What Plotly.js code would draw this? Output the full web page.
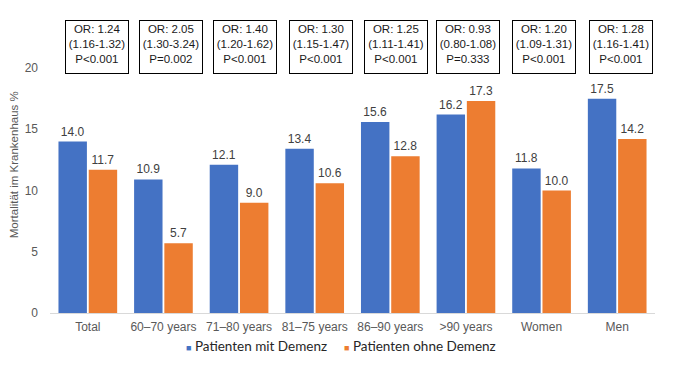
<!DOCTYPE html>
<html>
<head>
<meta charset="utf-8">
<script src="https://cdn.plot.ly/plotly-3.0.1.min.js"></script>
<style>html,body{margin:0;padding:0;background:#fff;}#chart{width:673px;height:368px;}</style>
</head>
<body>
<div id="chart"></div>
<script>
const categories = ['Total', '60–70 years', '71–80 years', '81–75 years', '86–90 years', '>90 years', 'Women', 'Men'];
const seriesNames = ['Patienten mit Demenz', 'Patienten ohne Demenz'];
const withDementia = [14.0, 10.9, 12.1, 13.4, 15.6, 16.2, 11.8, 17.5];
const withoutDementia = [11.7, 5.7, 9.0, 10.6, 12.8, 17.3, 10.0, 14.2];
const orValues = ['1.24', '2.05', '1.40', '1.30', '1.25', '0.93', '1.20', '1.28'];
const ciValues = ['(1.16-1.32)', '(1.30-3.24)', '(1.20-1.62)', '(1.15-1.47)', '(1.11-1.41)', '(0.80-1.08)', '(1.09-1.31)', '(1.16-1.41)'];
const pValues = ['P<0.001', 'P=0.002', 'P<0.001', 'P<0.001', 'P<0.001', 'P=0.333', 'P<0.001', 'P<0.001'];
const yTitle = 'Mortalität im Krankenhaus %';

const colors = ['#4472C4', '#ED7D31'];
const boxShift = [9, 7.5, 6, 6, 5.5, 2, 2, 3.5];
const FONT = 'Liberation Sans, Arial, sans-serif';

const traces = [withDementia, withoutDementia].map((vals, i) => ({
  type: 'bar',
  name: seriesNames[i],
  x: categories,
  y: vals,
  marker: {color: colors[i], line: {width: 0}},
  text: vals.map(v => v.toFixed(1)),
  textposition: 'outside',
  textfont: {family: FONT, size: 12, color: '#404040'},
  cliponaxis: false,
  showlegend: false,
  hoverinfo: 'x+y'
}));

const annotations = categories.map((c, i) => ({
  xref: 'x', yref: 'paper',
  x: c, y: 1.085,
  xshift: boxShift[i],
  xanchor: 'center', yanchor: 'middle',
  text: 'OR: ' + orValues[i] + '<br>' + ciValues[i] + '<br>' + pValues[i],
  showarrow: false,
  width: 58, height: 48,
  valign: 'top', align: 'center',
  bordercolor: '#000000', borderwidth: 1, borderpad: 2,
  bgcolor: '#ffffff',
  font: {family: FONT, size: 11.5, color: '#1a1a1a'}
}));

annotations.push({
  xref: 'paper', yref: 'paper', x: 0, y: 0.603,
  xshift: -36, xanchor: 'center', yanchor: 'middle',
  textangle: -90, showarrow: false,
  text: yTitle,
  font: {family: FONT, size: 11.5, color: '#595959'}
});

// legend built from series names
const legendX = [0.221, 0.482];
seriesNames.forEach((n, i) => {
  annotations.push({
    xref: 'paper', yref: 'paper', x: legendX[i], y: -0.136,
    xanchor: 'left', yanchor: 'middle', showarrow: false,
    text: '<span style="color:' + colors[i] + ';font-size:9px">■</span> ' + n,
    font: {family: 'Lato, Carlito, sans-serif', size: 13.5, color: '#262626'}
  });
});

const layout = {
  width: 673, height: 368,
  margin: {l: 50, r: 18, t: 68, b: 55},
  paper_bgcolor: '#ffffff', plot_bgcolor: '#ffffff',
  barmode: 'group', bargap: 0.2, bargroupgap: 0.06,
  showlegend: false,
  xaxis: {
    type: 'category',
    showline: true, linecolor: '#d9d9d9', linewidth: 1,
    showgrid: false, zeroline: false, ticks: '',
    ticklabelstandoff: 3,
    tickfont: {family: FONT, size: 12, color: '#595959'}
  },
  yaxis: {
    range: [0, 20], dtick: 5, tick0: 0,
    showgrid: false, zeroline: false, showline: false, ticks: '',
    ticklabelstandoff: 11,
    tickfont: {family: FONT, size: 12, color: '#595959'}
  },
  annotations: annotations
};

Plotly.newPlot('chart', traces, layout, {displayModeBar: false, staticPlot: true});
</script>
</body>
</html>
